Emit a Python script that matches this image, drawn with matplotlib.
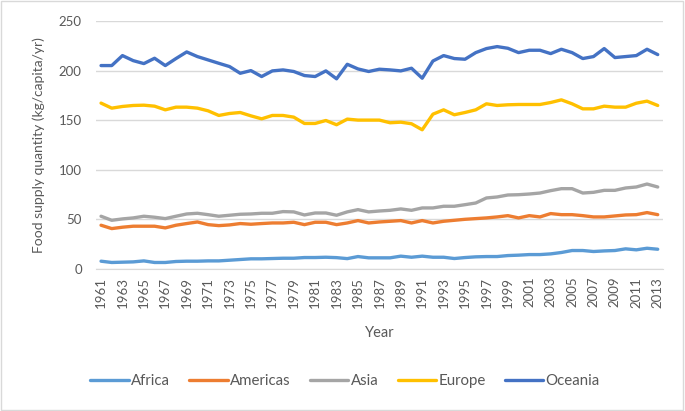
import matplotlib
matplotlib.use("Agg")
import matplotlib.pyplot as plt
from matplotlib.patches import Rectangle

plt.rcParams['font.family'] = ['Lato', 'DejaVu Sans']

years = list(range(1961, 2014))

africa = [7.4, 6.1, 6.4, 6.7, 7.7, 6.1, 6.1, 7.1, 7.4, 7.4, 7.7, 7.7, 8.4, 9.1, 9.8, 9.8,
          10.1, 10.4, 10.4, 11.1, 11.1, 11.4, 11.0, 10.0, 12.1, 10.8, 10.8, 10.8, 12.5, 11.4,
          12.5, 11.4, 11.4, 10.1, 11.1, 11.8, 12.1, 12.1, 13.1, 13.5, 14.1, 14.1, 14.8, 16.2,
          18.2, 18.2, 17.2, 17.8, 18.2, 19.9, 18.9, 20.5, 19.5]

americas = [43.8, 40.4, 41.8, 42.8, 42.8, 42.8, 41.1, 43.8, 45.5, 47.1, 44.4, 43.4, 44.1,
            45.5, 44.8, 45.5, 46.1, 46.1, 46.8, 44.4, 46.8, 46.8, 44.4, 46.1, 48.5, 46.1,
            47.1, 47.8, 48.5, 46.1, 48.5, 46.1, 47.8, 48.8, 49.8, 50.5, 51.2, 52.2, 53.5,
            51.2, 53.5, 52.2, 55.6, 54.5, 54.5, 53.5, 52.2, 52.2, 53.2, 54.2, 54.5, 56.6, 54.5]

asia = [52.9, 48.8, 50.2, 51.2, 52.9, 51.9, 50.5, 52.9, 55.2, 55.9, 54.5, 52.9, 53.9, 54.9,
        55.2, 55.9, 55.9, 57.6, 57.3, 54.2, 56.2, 56.2, 53.9, 57.3, 59.6, 57.3, 58.2, 58.9,
        60.3, 58.9, 61.3, 61.3, 63.0, 63.0, 64.6, 66.3, 71.4, 72.4, 74.4, 74.7, 75.4, 76.4,
        78.8, 80.8, 80.8, 76.4, 77.1, 79.1, 79.1, 81.5, 82.5, 85.5, 82.5]

europe = [167.4, 162.3, 164.0, 165.0, 165.3, 164.3, 160.6, 163.3, 163.3, 162.3, 159.6, 154.9,
          156.9, 157.9, 154.5, 151.5, 154.9, 154.9, 153.2, 146.8, 146.8, 149.8, 145.5, 151.2,
          150.2, 150.2, 150.2, 147.5, 148.1, 146.5, 140.4, 156.2, 160.6, 155.6, 157.9, 160.6,
          166.7, 165.0, 165.7, 166.0, 166.0, 166.0, 168.0, 170.7, 166.7, 161.6, 161.6, 164.3,
          163.3, 163.3, 167.3, 169.4, 165.0]

oceania = [205.4, 205.4, 215.5, 210.4, 207.4, 212.8, 205.4, 212.5, 219.2, 214.5, 211.1, 207.7,
           204.4, 197.6, 200.3, 194.3, 200.0, 201.0, 199.4, 195.3, 194.3, 200.0, 192.0, 206.7,
           202.0, 199.4, 201.7, 201.0, 200.0, 202.7, 192.6, 210.0, 215.5, 212.5, 211.8, 218.5,
           222.6, 224.6, 222.9, 218.5, 220.9, 220.9, 217.5, 221.9, 218.5, 212.5, 214.5, 222.6,
           213.5, 214.5, 215.5, 221.9, 216.5]

series = [("Africa", africa, "#5B9BD5"),
          ("Americas", americas, "#ED7D31"),
          ("Asia", asia, "#A5A5A5"),
          ("Europe", europe, "#FFC000"),
          ("Oceania", oceania, "#4472C4")]

yticks = [0, 50, 100, 150, 200, 250]
xtick_years = years[::2]

fig = plt.figure(figsize=(6.85, 4.11), dpi=100)
ax = fig.add_axes([0.1397, 0.3467, 0.968 - 0.1397, 0.9477 - 0.3467])

for name, vals, col in series:
    ax.plot(years, vals, color=col, lw=2.4, label=name, solid_capstyle='round',
            solid_joinstyle='round')

ax.set_xlim(1960.5, 2013.5)
ax.set_ylim(0, 250)
ax.set_yticks(yticks)
ax.set_xticks(xtick_years)
ax.set_xticklabels([str(y) for y in xtick_years], rotation=90)
ax.tick_params(axis='both', length=0, labelsize=9.5, colors='#595959')
ax.tick_params(axis='x', pad=6)
ax.tick_params(axis='y', pad=10)
ax.grid(axis='y', color='#D9D9D9', lw=1)
ax.set_axisbelow(True)
for s in ['top', 'right', 'left']:
    ax.spines[s].set_visible(False)
ax.spines['bottom'].set_color('#D9D9D9')

ax.set_xlabel("Year", fontsize=10.5, color='#595959', labelpad=13)
ax.set_ylabel("Food supply quantity (kg/capita/yr)", fontsize=10, color='#595959', labelpad=10)

leg = fig.legend(loc='center', bbox_to_anchor=(0.504, 0.073), ncol=5, frameon=False,
                 fontsize=10.8, handlelength=2.55, columnspacing=1.3, handletextpad=0.15)
for t in leg.get_texts():
    t.set_color('#595959')

fig.patches.append(Rectangle((0.002, 0.003), 0.995, 0.994, transform=fig.transFigure,
                             fill=False, edgecolor='#D9D9D9', lw=1))

fig.savefig("out.png", dpi=100)
